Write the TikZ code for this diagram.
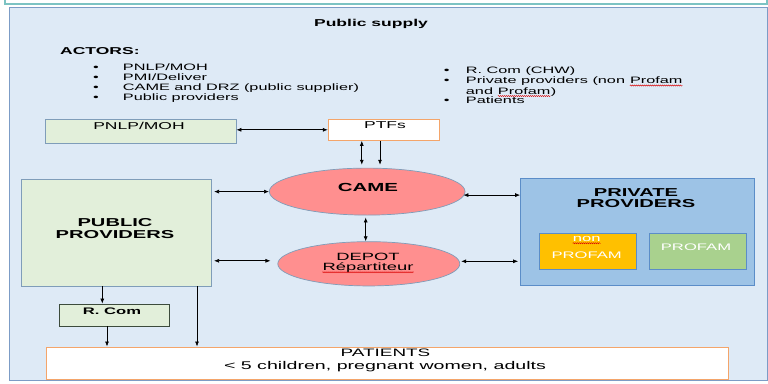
\documentclass[tikz,border=0pt]{standalone}
\usepackage{fontspec}
\setmainfont{Liberation Sans}[FakeStretch=1.75]
\usetikzlibrary{shapes.geometric,arrows.meta,decorations.pathmorphing,calc}
\definecolor{bgblue}{HTML}{DEEAF6}
\definecolor{bgborder}{HTML}{7C9CC6}
\definecolor{lgreen}{HTML}{E2EFDA}
\definecolor{boxborder}{HTML}{7F9DB9}
\definecolor{salmon}{HTML}{FF8F8F}
\definecolor{privblue}{HTML}{9DC3E6}
\definecolor{privborder}{HTML}{5B8DC8}
\definecolor{amber}{HTML}{FFC000}
\definecolor{pgreen}{HTML}{A9D18E}
\definecolor{orangeb}{HTML}{F4A56A}
\definecolor{tealb}{HTML}{7CC3C3}
\definecolor{rcomborder}{HTML}{3C4B3C}
\newcommand\wavyword[1]{\tikz[baseline=(ww.base)]{\node[inner sep=0,anchor=base](ww){#1};\draw[red!85!black,line width=0.4pt,decorate,decoration={snake,amplitude=0.6pt,segment length=2pt}]([yshift=-2pt]ww.base west)--([yshift=-2pt]ww.base east);}}
\tikzset{
  txt/.style={inner sep=0pt, anchor=base},
  fs/.style={font=\fontsize{#1pt}{#1pt}\selectfont},
  fb/.style={font=\fontsize{#1pt}{#1pt}\selectfont\bfseries},
  greenbox/.style={draw=boxborder, fill=lgreen, line width=0.8pt, inner sep=0pt},
  whitebox/.style={draw=orangeb, fill=white, line width=1pt, inner sep=0pt},
  oval/.style={ellipse, draw=boxborder, fill=salmon, line width=0.7pt, inner sep=0pt},
  conn/.style={-{Latex[length=5pt,width=4pt]}, line width=0.7pt, black},
  dconn/.style={{Latex[length=5pt,width=4pt]}-{Latex[length=5pt,width=4pt]}, line width=0.7pt, black},
}
\begin{document}
\begin{tikzpicture}[x=1pt,y=-1pt]
\useasboundingbox (0,0) rectangle (768,383);
\fill[white] (0,0) rectangle (768,383);
% top frame
\draw[tealb, line width=1.2pt] (5,-2) -- (5,4) -- (767,4) -- (767,-2);
% background
\draw[bgborder, fill=bgblue, line width=0.8pt] (9.5,7.5) rectangle (767,380);

% header texts
\node[txt, fb=10] (title) at (371,26) {Public supply};
\node[txt, fb=10, anchor=base west] (actors) at (60,54.3) {ACTORS:};
\foreach \n/\y/\t in {l1/70/{PNLP/MOH}, l2/80.3/{PMI/Deliver}, l3/90.6/{CAME and DRZ (public supplier)}, l4/100.9/{Public providers}}{
  \node[txt, fs=9.3] (b\n) at (96,\y) {•};
  \node[txt, fs=9.3, anchor=base west] (\n) at (122.7,\y) {\t};
}
\node[txt, fs=9.3] (br1) at (446.7,73) {•};
\node[txt, fs=9.3, anchor=base west] (r1) at (465.7,73) {R. Com (CHW)};
\node[txt, fs=9.3] (br2) at (446.7,83.5) {•};
\node[txt, fs=9.3, anchor=base west] (r2) at (465.7,83.5) {Private providers (non \wavyword{Profam}};
\node[txt, fs=9.3, anchor=base west] (r2b) at (465.7,94) {and \wavyword{Profam})};
\node[txt, fs=9.3] (br3) at (446.7,103.5) {•};
\node[txt, fs=9.3, anchor=base west] (r3) at (465.7,103.5) {Patients};

% boxes
\node[greenbox, minimum width=191pt, minimum height=24.3pt] (pnlp) at (140.5,131.2) {};
\node[txt, fs=10] (pnlpt) at (139,129.3) {PNLP/MOH};
\node[whitebox, minimum width=111pt, minimum height=21pt] (ptfs) at (383.8,129.8) {};
\node[txt, fs=10] (ptfst) at (385,128.7) {PTFs};

\node[oval, minimum width=195.7pt, minimum height=47pt] (came) at (367.2,191.6) {};
\node[txt, fb=11.7] (camet) at (368,191.7) {CAME};
\node[oval, minimum width=182pt, minimum height=44.3pt] (depot) at (368.8,263.8) {};
\node[txt, fs=10.5] (depott) at (368,260) {DEPOT};
\node[txt, fs=10.5] (rept) at (368,270.3) {\wavyword{Répartiteur}};

\node[greenbox, minimum width=190.7pt, minimum height=107pt] (pub) at (116.3,232.5) {};
\node[txt, fb=11.5] (pubt1) at (115,226.7) {PUBLIC};
\node[txt, fb=11.5] (pubt2) at (115,238.3) {PROVIDERS};

\node[draw=privborder, fill=privblue, line width=1pt, inner sep=0pt, minimum width=234.3pt, minimum height=107.4pt] (priv) at (637.8,232) {};
\node[txt, fb=11.5] (privt1) at (636,196) {PRIVATE};
\node[txt, fb=11.5] (privt2) at (636,207.3) {PROVIDERS};
\node[draw=privborder, fill=amber, line width=0.8pt, inner sep=0pt, minimum width=97pt, minimum height=36pt] (nonp) at (587.5,251) {};
\node[txt, fs=9.5, text=white] (nont1) at (586.7,241.2) {\wavyword{non}};
\node[txt, fs=9.5, text=white] (nont2) at (586.7,258.3) {PROFAM};
\node[draw=privborder, fill=pgreen, line width=0.8pt, inner sep=0pt, minimum width=97pt, minimum height=36pt] (prof) at (697.5,251) {};
\node[txt, fs=9.5, text=white] (proft) at (696,250.7) {PROFAM};

\node[draw=rcomborder, fill=lgreen, line width=0.8pt, inner sep=0pt, minimum width=110pt, minimum height=22pt] (rcom) at (114,315) {};
\node[txt, fb=9.5] (rcomt) at (112,314.3) {R. Com};

\node[whitebox, minimum width=682pt, minimum height=32pt] (pat) at (387,363) {};
\node[txt, fs=10.8] (patt1) at (385.5,356) {PATIENTS};
\node[txt, fs=11.2] (patt2) at (385,369) {< 5 children, pregnant women, adults};

% connectors
\draw[dconn] (pnlp.east |- ptfs.west) -- (ptfs.west);
\coordinate (pa) at ($(ptfs.south)+(-22,0)$);
\coordinate (pb) at ($(ptfs.south)+(-3.8,0)$);
\draw[dconn] (pa) -- ($(pa |- came.north)+(0,-3)$);
\draw[conn] (pb) -- ($(pb |- came.north)+(0,-3)$);
\coordinate (cd) at ($(came.south)+(-1.5,0)$);
\draw[dconn, shorten <=2pt] (cd) -- (cd |- depot.north);
\draw[dconn, shorten <=2pt] (pub.east |- came.west) -- (came.west);
\coordinate (dw) at ($(depot.west)+(0,-3)$);
\draw[dconn, shorten <=2pt, shorten >=7pt] (pub.east |- dw) -- (dw);
\coordinate (ce) at ($(came.east)+(-2,3.5)$);
\draw[dconn] (ce) -- (ce -| priv.west);
\coordinate (de) at ($(depot.east)+(1,-2.5)$);
\draw[dconn, shorten >=2pt] (de) -- (de -| priv.west);
\coordinate (p1) at ($(pub.south)+(-14,0)$);
\draw[conn] (p1) -- (p1 |- rcom.north);
\coordinate (q1) at ($(rcom.south)+(-7,0)$);
\draw[conn] (q1) -- (q1 |- pat.north);
\coordinate (p2) at ($(pub.south)+(80.7,0)$);
\draw[conn] (p2) -- (p2 |- pat.north);
\end{tikzpicture}
\end{document}
